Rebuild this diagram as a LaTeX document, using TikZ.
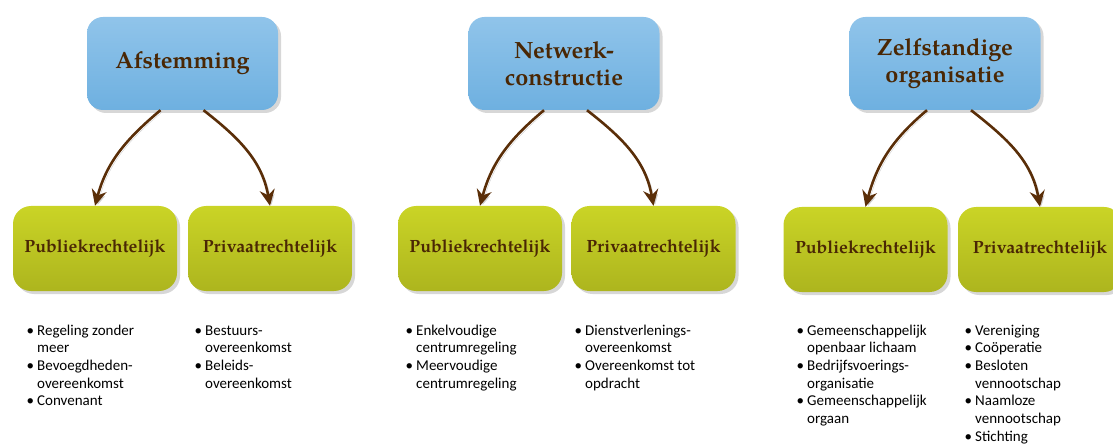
\documentclass[tikz,border=0pt]{standalone}
\usepackage{fontspec}
\setmainfont{Carlito}
\newfontfamily\palb{texgyrepagella-bold.otf}
\usetikzlibrary{shadows,arrows.meta}
\definecolor{brn}{HTML}{4A2704}
\definecolor{arr}{HTML}{5A2E08}
\definecolor{bluetop}{HTML}{90C4EA}
\definecolor{bluebot}{HTML}{6EB0E0}
\definecolor{greentop}{HTML}{CAD426}
\definecolor{greenbot}{HTML}{ADB51E}
\newcommand\bul{\llap{•\hspace{3pt}}}
\tikzset{
  head/.style={rounded corners=16pt, top color=bluetop, bottom color=bluebot,
    minimum width=191pt, minimum height=93pt, text=brn, align=center,
    font={\fontsize{23.5}{27}\palb},
    drop shadow={shadow xshift=3pt,shadow yshift=-3pt,fill=black!35,opacity=.45}},
  sub/.style={rounded corners=18pt, top color=greentop, bottom color=greenbot,
    minimum width=164pt, minimum height=85pt, text=brn, align=center,
    font={\fontsize{17.7}{20}\palb},
    drop shadow={shadow xshift=3pt,shadow yshift=-3pt,fill=black!35,opacity=.45}},
  link/.style={arr, line width=2.6pt, -{Stealth[length=16pt,width=15pt]},
    preaction={draw=black!18, transform canvas={xshift=2pt,yshift=-1.5pt}}},
  items/.style={anchor=base west, inner sep=0pt,
    font={\fontsize{15}{17.7}\selectfont}},
}
\newcommand\lst[1]{\begin{tabular}[t]{@{}l@{}}#1\end{tabular}}
\begin{document}
\begin{tikzpicture}[x=1pt,y=1pt]
\useasboundingbox (0,0) rectangle (1113,-446);
% heads
\node[head] (h1) at (182.5,-63.5) {Afstemming};
\node[head] (h2) at (564,-63.5) {Netwerk-\\constructie};
\node[head] (h3) at (945,-63.5) {Zelfstandige\\organisatie};
% subs
\node[sub] (g1a) at (95,-248.5) {Publiekrechtelijk};
\node[sub] (g1b) at (270,-248.5) {Privaatrechtelijk};
\node[sub] (g2a) at (480,-248.5) {Publiekrechtelijk};
\node[sub] (g2b) at (653.5,-248.5) {Privaatrechtelijk};
\node[sub] (g3a) at (865.5,-249.5) {Publiekrechtelijk};
\node[sub] (g3b) at (1040,-249.5) {Privaatrechtelijk};
% arrows
\draw[link] ([xshift=-22pt]h1.south) to[out=-140,in=75] (g1a.north);
\draw[link] ([xshift=21pt]h1.south) to[out=-38,in=100] (g1b.north);
\draw[link] ([xshift=-20pt]h2.south) to[out=-140,in=75] (g2a.north);
\draw[link] ([xshift=23pt]h2.south) to[out=-38,in=100] (g2b.north);
\draw[link] ([xshift=-18pt]h3.south) to[out=-140,in=75] (g3a.north);
\draw[link] ([xshift=26pt]h3.south) to[out=-38,in=100] (g3b.north);
% lists
\node[items] (l1a) at (37,-335) {\lst{\bul Regeling zonder\\meer\\\bul Bevoegdheden-\\overeenkomst\\\bul Convenant}};
\node[items] (l1b) at (205,-335) {\lst{\bul Bestuurs-\\overeenkomst\\\bul Beleids-\\overeenkomst}};
\node[items] (l2a) at (416,-335) {\lst{\bul Enkelvoudige\\centrumregeling\\\bul Meervoudige\\centrumregeling}};
\node[items] (l2b) at (585,-335) {\lst{\bul Dienstverlenings-\\overeenkomst\\\bul Overeenkomst tot\\opdracht}};
\node[items] (l3a) at (807,-335) {\lst{\bul Gemeenschappelijk\\openbaar lichaam\\\bul Bedrijfsvoerings-\\organisatie\\\bul Gemeenschappelijk\\orgaan}};
\node[items] (l3b) at (975,-335) {\lst{\bul Vereniging\\\bul Coöperatie\\\bul Besloten\\vennootschap\\\bul Naamloze\\vennootschap\\\bul Stichting}};
\end{tikzpicture}
\end{document}
